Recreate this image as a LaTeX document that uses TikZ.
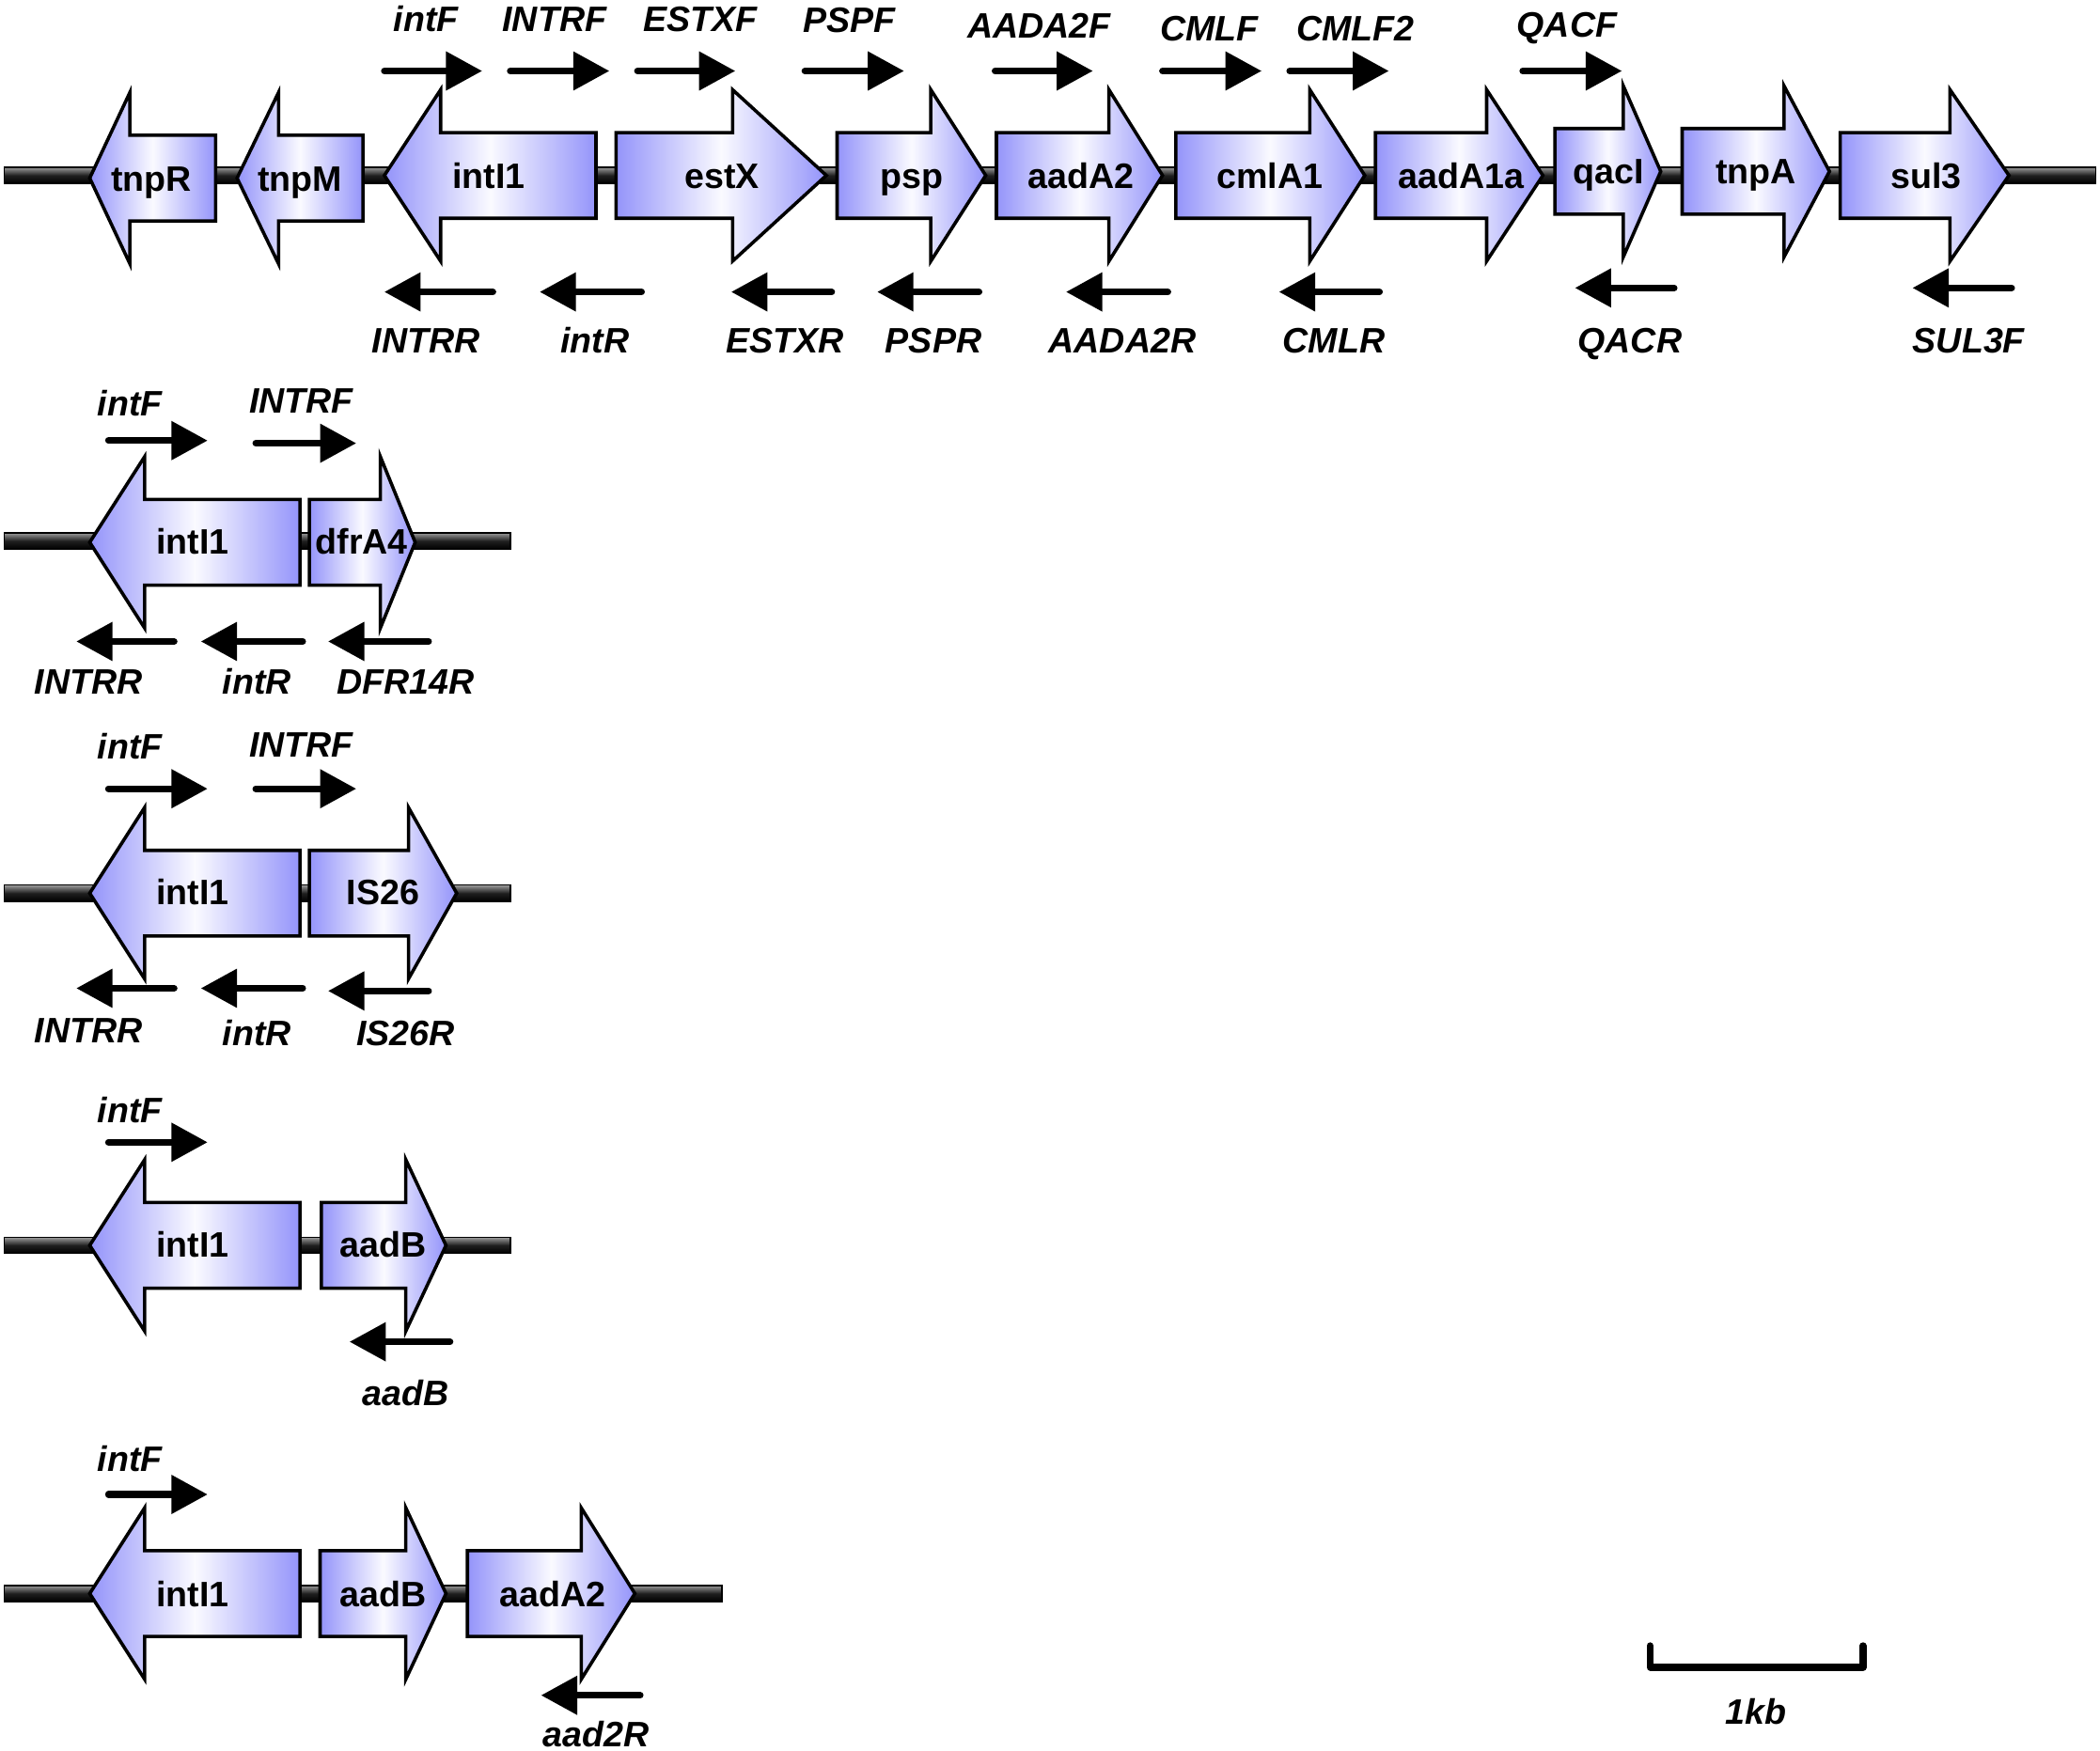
\documentclass[tikz,border=0pt]{standalone}
\usepackage{fontspec}
\setmainfont{Liberation Sans}
\usetikzlibrary{arrows.meta}
\definecolor{geneblue}{RGB}{148,148,250}
\definecolor{genewhite}{RGB}{250,250,255}
\tikzset{
  genebox/.style={draw=black, line width=1.25pt, line join=miter, left color=geneblue, right color=geneblue, middle color=genewhite},
  genetext/.style={font=\bfseries\fontsize{13.2}{15}\selectfont, text height=9.5pt, text depth=0pt, inner sep=0pt},
  primertext/.style={font=\bfseries\itshape\fontsize{13.2}{15}\selectfont, text height=9.5pt, text depth=0pt, inner sep=0pt},
  primer/.style={line width=2.5pt, line cap=round, -{Triangle[length=13.5pt,width=14pt]}},
  backbone/.style={draw=black, line width=0.5pt, top color=black!40, bottom color=black, middle color=black!88},
}
\newcommand\geneRt[4]{\path[genebox] (#1,#4-32) -- (#2,#4-32) -- (#2,#4-64) -- (#3,#4) -- (#2,#4+64) -- (#2,#4+32) -- (#1,#4+32) -- cycle;}
\newcommand\geneLt[4]{\path[genebox] (#1,#4-32) -- (#2,#4-32) -- (#2,#4-64) -- (#3,#4) -- (#2,#4+64) -- (#2,#4+32) -- (#1,#4+32) -- cycle;}
\newcommand\bbone[3]{\path[backbone] (#1,#3-6) rectangle (#2,#3+6);}
\begin{document}
\begin{tikzpicture}[x=0.5pt,y=-0.5pt]
\path[use as bounding box] (0,0) rectangle (1568,1307);
% ---------------- row 1 ----------------
\bbone{3}{1565}{131}
\geneLt{161}{97}{67}{133}
\geneLt{271}{208}{177}{133}
\geneLt{445}{329}{287}{131}
\geneRt{460}{547}{617}{131}
\geneRt{625}{695}{736}{131}
\geneRt{744}{828}{868}{131}
\geneRt{878}{978}{1019}{131}
\geneRt{1027}{1110}{1152}{131}
\geneRt{1161}{1212}{1240}{128}
\geneRt{1256}{1332}{1366}{128}
\geneRt{1374}{1456}{1500}{131}
\node[genetext] (r1a) at (113,133) {tnpR};
\node[genetext] (r1b) at (224,133) {tnpM};
\node[genetext] (r1c) at (365,131) {intI1};
\node[genetext] (r1d) at (539,131) {estX};
\node[genetext] (r1e) at (681,131) {psp};
\node[genetext] (r1f) at (807,131) {aadA2};
\node[genetext] (r1g) at (948,131) {cmlA1};
\node[genetext] (r1h) at (1091,131) {aadA1a};
\node[genetext] (r1i) at (1201,128) {qacI};
\node[genetext] (r1j) at (1311,128) {tnpA};
\node[genetext] (r1k) at (1438,131) {sul3};
% forward primers
\draw[primer] (287,53) -- (360,53);
\draw[primer] (381,53) -- (455,53);
\draw[primer] (476,53) -- (549,53);
\draw[primer] (601,53) -- (675,53);
\draw[primer] (743,53) -- (816,53);
\draw[primer] (868,53) -- (942,53);
\draw[primer] (963,53) -- (1037,53);
\draw[primer] (1137,53) -- (1211,53);
\node[primertext] (p1a) at (318,14) {intF};
\node[primertext] (p1b) at (414,14) {INTRF};
\node[primertext] (p1c) at (523,14) {ESTXF};
\node[primertext] (p1d) at (634,15) {PSPF};
\node[primertext] (p1e) at (776,19) {AADA2F};
\node[primertext] (p1f) at (903,21) {CMLF};
\node[primertext] (p1g) at (1012,21) {CMLF2};
\node[primertext] (p1h) at (1170,18) {QACF};
% reverse primers
\draw[primer] (368,218) -- (287,218);
\draw[primer] (479,218) -- (403,218);
\draw[primer] (621,218) -- (546,218);
\draw[primer] (731,218) -- (655,218);
\draw[primer] (872,218) -- (796,218);
\draw[primer] (1030,218) -- (955,218);
\draw[primer] (1250,215) -- (1176,215);
\draw[primer] (1502,215) -- (1428,215);
\node[primertext] (q1a) at (318,254) {INTRR};
\node[primertext] (q1b) at (444,254) {intR};
\node[primertext] (q1c) at (586,254) {ESTXR};
\node[primertext] (q1d) at (697,254) {PSPR};
\node[primertext] (q1e) at (838,254) {AADA2R};
\node[primertext] (q1f) at (996,254) {CMLR};
\node[primertext] (q1g) at (1217,254) {QACR};
\node[primertext] (q1h) at (1470,254) {SUL3F};
% ---------------- row 2 ----------------
\bbone{3}{381}{404}
\geneLt{224}{108}{67}{405}
\geneRt{231}{284}{310}{405}
\node[genetext] (r2a) at (144,404) {intI1};
\node[genetext] (r2b) at (270,404) {dfrA4};
\draw[primer] (81,329) -- (155,329);
\draw[primer] (191,331) -- (266,331);
\node[primertext] (p2a) at (97,301) {intF};
\node[primertext] (p2b) at (225,299) {INTRF};
\draw[primer] (130,479) -- (57,479);
\draw[primer] (226,479) -- (150,479);
\draw[primer] (320,479) -- (245,479);
\node[primertext] (q2a) at (66,509) {INTRR};
\node[primertext] (q2b) at (192,509) {intR};
\node[primertext] (q2c) at (303,509) {DFR14R};
% ---------------- row 3 ----------------
\bbone{3}{381}{667}
\geneLt{224}{108}{67}{667}
\geneRt{231}{305}{341}{667}
\node[genetext] (r3a) at (144,666) {intI1};
\node[genetext] (r3b) at (286,666) {IS26};
\draw[primer] (81,589) -- (155,589);
\draw[primer] (191,589) -- (266,589);
\node[primertext] (p3a) at (97,557) {intF};
\node[primertext] (p3b) at (225,556) {INTRF};
\draw[primer] (130,738) -- (57,738);
\draw[primer] (226,738) -- (150,738);
\draw[primer] (320,740) -- (245,740);
\node[primertext] (q3a) at (66,769) {INTRR};
\node[primertext] (q3b) at (192,771) {intR};
\node[primertext] (q3c) at (303,771) {IS26R};
% ---------------- row 4 ----------------
\bbone{3}{381}{930}
\geneLt{224}{108}{67}{930}
\geneRt{240}{303}{333}{930}
\node[genetext] (r4a) at (144,929) {intI1};
\node[genetext] (r4b) at (286,929) {aadB};
\draw[primer] (81,853) -- (155,853);
\node[primertext] (p4a) at (97,829) {intF};
\draw[primer] (336,1002) -- (261,1002);
\node[primertext] (q4a) at (303,1040) {aadB};
% ---------------- row 5 ----------------
\bbone{3}{539}{1190}
\geneLt{224}{108}{67}{1190}
\geneRt{239}{303}{333}{1190}
\geneRt{349}{434}{474}{1190}
\node[genetext] (r5a) at (144,1190) {intI1};
\node[genetext] (r5b) at (286,1190) {aadB};
\node[genetext] (r5c) at (413,1190) {aadA2};
\draw[primer] (81,1116) -- (155,1116);
\node[primertext] (p5a) at (97,1089) {intF};
\draw[primer] (478,1266) -- (404,1266);
\node[primertext] (q5a) at (445,1295) {aad2R};
% ---------------- scale bar ----------------
\coordinate (s1) at (1232,1229);
\coordinate (s2) at (1232,1245);
\coordinate (s3) at (1391,1245);
\coordinate (s4) at (1391,1229);
\draw[line width=2.6pt, line cap=round, line join=round] (s1) -- (s2) -- (s3) -- (s4);
\node[primertext] (kb) at (1311,1278) {1kb};
\end{tikzpicture}
\end{document}
